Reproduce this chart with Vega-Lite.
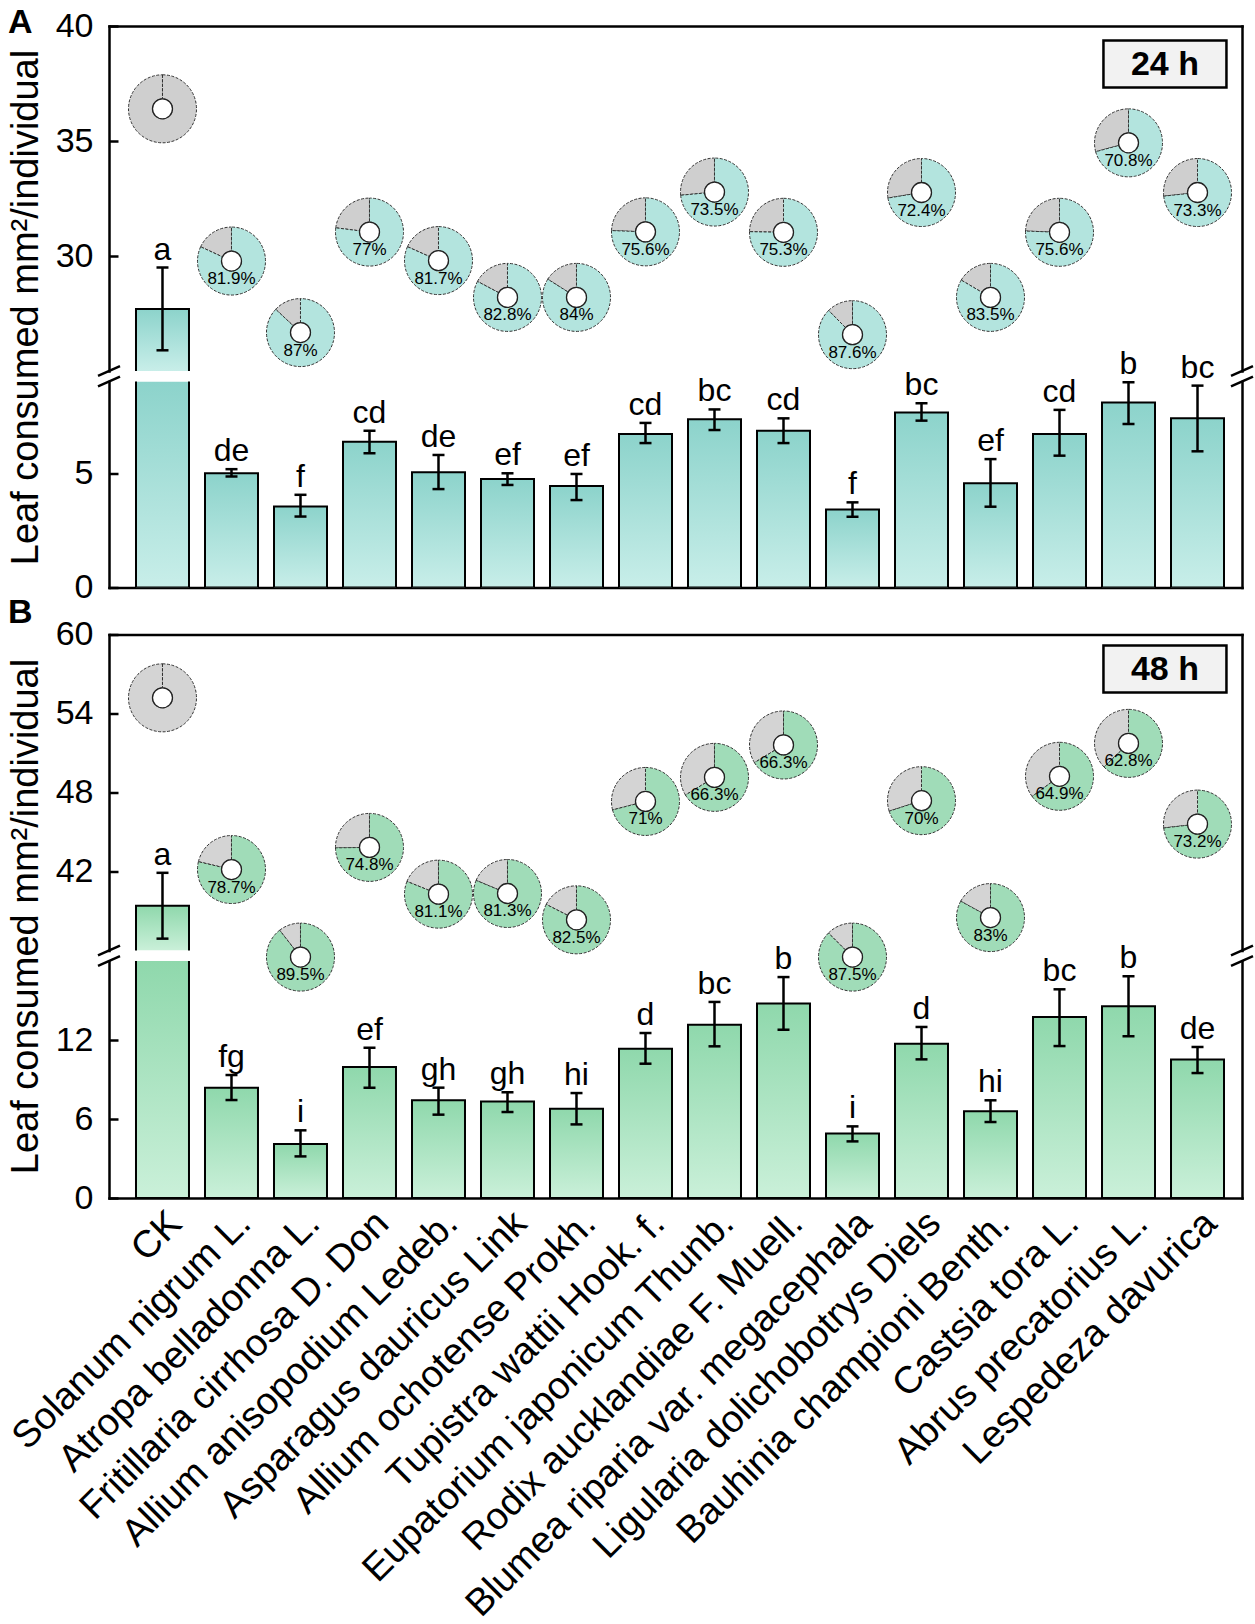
{
"$schema":"https://vega.github.io/schema/vega-lite/v6.json",
"background":"white",
"padding":{"left":5,"top":5,"right":5,"bottom":5},
"config":{"view":{"stroke":null},"font":"Liberation Sans","axis":{"grid":false}},
"datasets":{"d":[
{"panel":"A","species":"CK","mean":27.7,"lo":25.9,"hi":29.5,"letter":"a","rate":0,"pie_y":36.4},
{"panel":"A","species":"Solanum nigrum L.","mean":4.99,"lo":4.85,"hi":5.17,"letter":"de","rate":0.819,"pie_y":29.78},
{"panel":"A","species":"Atropa belladonna L.","mean":3.54,"lo":3.1,"hi":4.05,"letter":"f","rate":0.87,"pie_y":26.67},
{"panel":"A","species":"Fritillaria cirrhosa D. Don","mean":6.37,"lo":5.87,"hi":6.85,"letter":"cd","rate":0.77,"pie_y":31.04},
{"panel":"A","species":"Allium anisopodium Ledeb.","mean":5.03,"lo":4.3,"hi":5.79,"letter":"de","rate":0.817,"pie_y":29.8},
{"panel":"A","species":"Asparagus dauricus Link","mean":4.74,"lo":4.48,"hi":4.99,"letter":"ef","rate":0.828,"pie_y":28.2},
{"panel":"A","species":"Allium ochotense Prokh.","mean":4.43,"lo":3.82,"hi":4.96,"letter":"ef","rate":0.84,"pie_y":28.2},
{"panel":"A","species":"Tupistra wattii Hook. f.","mean":6.71,"lo":6.31,"hi":7.19,"letter":"cd","rate":0.756,"pie_y":31.05},
{"panel":"A","species":"Eupatorium japonicum Thunb.","mean":7.35,"lo":6.88,"hi":7.78,"letter":"bc","rate":0.735,"pie_y":32.78},
{"panel":"A","species":"Rodix aucklandiae F. Muell.","mean":6.85,"lo":6.31,"hi":7.39,"letter":"cd","rate":0.753,"pie_y":31.03},
{"panel":"A","species":"Blumea riparia var. megacephala","mean":3.41,"lo":3.09,"hi":3.72,"letter":"f","rate":0.876,"pie_y":26.58},
{"panel":"A","species":"Ligularia dolichobotrys Diels","mean":7.65,"lo":7.29,"hi":8.05,"letter":"bc","rate":0.724,"pie_y":32.76},
{"panel":"A","species":"Bauhinia championi Benth.","mean":4.56,"lo":3.53,"hi":5.61,"letter":"ef","rate":0.835,"pie_y":28.2},
{"panel":"A","species":"Castsia tora L.","mean":6.71,"lo":5.76,"hi":7.76,"letter":"cd","rate":0.756,"pie_y":31.03},
{"panel":"A","species":"Abrus precatorius L.","mean":8.08,"lo":7.14,"hi":8.97,"letter":"b","rate":0.708,"pie_y":34.92},
{"panel":"A","species":"Lespedeza davurica","mean":7.39,"lo":5.95,"hi":8.82,"letter":"bc","rate":0.733,"pie_y":32.76},
{"panel":"B","species":"CK","mean":39.4,"lo":36.9,"hi":41.9,"letter":"a","rate":0,"pie_y":55.19},
{"panel":"B","species":"Solanum nigrum L.","mean":8.38,"lo":7.44,"hi":9.34,"letter":"fg","rate":0.787,"pie_y":42.15},
{"panel":"B","species":"Atropa belladonna L.","mean":4.1,"lo":3.16,"hi":5.14,"letter":"i","rate":0.895,"pie_y":35.5},
{"panel":"B","species":"Fritillaria cirrhosa D. Don","mean":9.95,"lo":8.38,"hi":11.41,"letter":"ef","rate":0.748,"pie_y":43.83},
{"panel":"B","species":"Allium anisopodium Ledeb.","mean":7.42,"lo":6.33,"hi":8.38,"letter":"gh","rate":0.811,"pie_y":40.28},
{"panel":"B","species":"Asparagus dauricus Link","mean":7.32,"lo":6.53,"hi":8.03,"letter":"gh","rate":0.813,"pie_y":40.33},
{"panel":"B","species":"Allium ochotense Prokh.","mean":6.78,"lo":5.59,"hi":7.97,"letter":"hi","rate":0.825,"pie_y":38.33},
{"panel":"B","species":"Tupistra wattii Hook. f.","mean":11.34,"lo":10.2,"hi":12.53,"letter":"d","rate":0.71,"pie_y":47.32},
{"panel":"B","species":"Eupatorium japonicum Thunb.","mean":13.16,"lo":11.52,"hi":14.89,"letter":"bc","rate":0.663,"pie_y":49.15},
{"panel":"B","species":"Rodix aucklandiae F. Muell.","mean":14.78,"lo":12.78,"hi":16.78,"letter":"b","rate":0.663,"pie_y":51.61},
{"panel":"B","species":"Blumea riparia var. megacephala","mean":4.89,"lo":4.3,"hi":5.44,"letter":"i","rate":0.875,"pie_y":35.5},
{"panel":"B","species":"Ligularia dolichobotrys Diels","mean":11.72,"lo":10.53,"hi":12.99,"letter":"d","rate":0.7,"pie_y":47.38},
{"panel":"B","species":"Bauhinia championi Benth.","mean":6.58,"lo":5.77,"hi":7.42,"letter":"hi","rate":0.83,"pie_y":38.5},
{"panel":"B","species":"Castsia tora L.","mean":13.75,"lo":11.54,"hi":15.85,"letter":"bc","rate":0.649,"pie_y":49.23},
{"panel":"B","species":"Abrus precatorius L.","mean":14.56,"lo":12.28,"hi":16.84,"letter":"b","rate":0.628,"pie_y":51.73},
{"panel":"B","species":"Lespedeza davurica","mean":10.51,"lo":9.49,"hi":11.47,"letter":"de","rate":0.732,"pie_y":45.6}
]},
"bounds":"flush",
"spacing":10.5,
"vconcat":[
{"width":1133,"height":345,
 "layer":[
  {"data":{"name":"d"},"transform":[{"filter":"datum.panel == 'A' && datum.mean > 20"}],
   "mark":{"type":"bar","clip":true,"fill":{"gradient":"linear","x1":0,"y1":0,"x2":0,"y2":1,"stops":[{"offset":0,"color":"#8cd3cb"},{"offset":1,"color":"#c8eee9"}]},"strokeWidth":0},
   "encoding":{
    "x":{"field":"species","type":"nominal","sort":null,"scale":{"domain":["CK","Solanum nigrum L.","Atropa belladonna L.","Fritillaria cirrhosa D. Don","Allium anisopodium Ledeb.","Asparagus dauricus Link","Allium ochotense Prokh.","Tupistra wattii Hook. f.","Eupatorium japonicum Thunb.","Rodix aucklandiae F. Muell.","Blumea riparia var. megacephala","Ligularia dolichobotrys Diels","Bauhinia championi Benth.","Castsia tora L.","Abrus precatorius L.","Lespedeza davurica"],"paddingInner":0.232,"paddingOuter":0.326,"align":0.6},"axis":{"orient":"top","labels":false,"ticks":false,"title":null,"domainColor":"black","domainWidth":2.5,"domainCap":"square"}},
    "y":{"field":"mean","type":"quantitative","scale":{"domain":[25,40],"nice":false,"zero":false,"clamp":true},"axis":{"orient":"left","values":[30,35,40],"ticks":false,"domainColor":"black","domainWidth":2.5,"domainCap":"square","labelFontSize":34,"labelColor":"black","labelPadding":16,"title":"Leaf consumed mm²/individual","titleFontSize":38,"titleFontWeight":"normal","titleColor":"black","titleY":281,"titlePadding":10}},
    "y2":{"datum":0}}},
  {"data":{"name":"d"},"transform":[{"filter":"datum.panel == 'A'"}],
   "layer":[
    {"transform":[{"filter":"datum.mean > 20"}],"mark":{"type":"bar","clip":true,"fill":"transparent","stroke":"black","strokeWidth":2},
     "encoding":{"x":{"field":"species","type":"nominal","sort":null,"scale":{"domain":["CK","Solanum nigrum L.","Atropa belladonna L.","Fritillaria cirrhosa D. Don","Allium anisopodium Ledeb.","Asparagus dauricus Link","Allium ochotense Prokh.","Tupistra wattii Hook. f.","Eupatorium japonicum Thunb.","Rodix aucklandiae F. Muell.","Blumea riparia var. megacephala","Ligularia dolichobotrys Diels","Bauhinia championi Benth.","Castsia tora L.","Abrus precatorius L.","Lespedeza davurica"],"paddingInner":0.232,"paddingOuter":0.326,"align":0.6},"axis":null},
      "y":{"field":"mean","type":"quantitative","scale":{"domain":[25,40],"nice":false,"zero":false},"axis":{"orient":"right","labels":false,"ticks":false,"title":null,"domainColor":"black","domainWidth":2.5,"domainCap":"square"}},
      "y2":{"datum":0}}},
    {"transform":[{"filter":"datum.mean > 20"}],"mark":{"type":"rule","color":"black","strokeWidth":2.5},
     "encoding":{"x":{"field":"species","type":"nominal","sort":null,"axis":null},"y":{"field":"lo","type":"quantitative","scale":{"domain":[25,40],"nice":false,"zero":false},"axis":{"orient":"left","offset":-9,"values":[30,35,40],"domain":false,"labels":false,"ticks":true,"tickSize":9,"tickWidth":2.5,"tickColor":"black","title":null}},"y2":{"field":"hi"}}},
    {"transform":[{"filter":"datum.mean > 20"}],"mark":{"type":"tick","color":"black","opacity":1,"thickness":2.5,"size":12},
     "encoding":{"x":{"field":"species","type":"nominal","sort":null,"axis":null},"y":{"field":"lo","type":"quantitative","scale":{"domain":[25,40],"nice":false,"zero":false},"axis":null}}},
    {"transform":[{"filter":"datum.mean > 20"}],"mark":{"type":"tick","color":"black","opacity":1,"thickness":2.5,"size":12},
     "encoding":{"x":{"field":"species","type":"nominal","sort":null,"axis":null},"y":{"field":"hi","type":"quantitative","scale":{"domain":[25,40],"nice":false,"zero":false},"axis":null}}},
    {"transform":[{"filter":"datum.mean > 20"}],"mark":{"type":"text","fontSize":32,"baseline":"alphabetic","dy":-8,"color":"black"},
     "encoding":{"x":{"field":"species","type":"nominal","sort":null,"axis":null},"y":{"field":"hi","type":"quantitative","scale":{"domain":[25,40],"nice":false,"zero":false},"axis":null},"text":{"field":"letter"}}},
    {"mark":{"type":"arc","radius":34,"radius2":10,"fill":"#cfcfcf","stroke":"#333333","strokeWidth":1,"strokeDash":[3,1.5]},
     "encoding":{"x":{"field":"species","type":"nominal","sort":null,"axis":null},"y":{"field":"pie_y","type":"quantitative","scale":{"domain":[25,40],"nice":false,"zero":false},"axis":null},"theta":{"field":"rate","type":"quantitative","stack":null,"scale":{"domain":[0,1]}},"theta2":{"value":6.2832}}},
    {"mark":{"type":"arc","radius":34,"radius2":10,"fill":"#b3e4de","stroke":"#333333","strokeWidth":1,"strokeDash":[3,1.5]},
     "encoding":{"x":{"field":"species","type":"nominal","sort":null,"axis":null},"y":{"field":"pie_y","type":"quantitative","scale":{"domain":[25,40],"nice":false,"zero":false},"axis":null},"theta":{"field":"rate","type":"quantitative","stack":null,"scale":{"domain":[0,1]}},"theta2":{"value":0}}},
    {"mark":{"type":"point","shape":"circle","size":400,"filled":true,"fill":"white","stroke":"#222222","strokeWidth":1.3,"opacity":1},
     "encoding":{"x":{"field":"species","type":"nominal","sort":null,"axis":null},"y":{"field":"pie_y","type":"quantitative","scale":{"domain":[25,40],"nice":false,"zero":false},"axis":null}}},
    {"transform":[{"filter":"datum.rate > 0"}],"mark":{"type":"text","fontSize":17,"dy":18,"color":"black"},
     "encoding":{"x":{"field":"species","type":"nominal","sort":null,"axis":null},"y":{"field":"pie_y","type":"quantitative","scale":{"domain":[25,40],"nice":false,"zero":false},"axis":null},"text":{"field":"rate","type":"quantitative","format":".1~%"}}}
   ],
   "resolve":{"axis":{"y":"independent"}}},
  {"data":{"values":[{}]},
   "layer":[
    {"mark":{"type":"point","shape":"M-1,0.45L1,-0.45","size":484,"filled":false,"stroke":"black","strokeWidth":2.5,"opacity":1},
     "encoding":{"x":{"datum":0,"type":"quantitative","scale":{"domain":[0,1],"nice":false,"zero":false},"axis":null},"y":{"datum":25,"type":"quantitative","scale":{"domain":[25,40],"nice":false,"zero":false},"axis":null}}},
    {"mark":{"type":"point","shape":"M-1,0.45L1,-0.45","size":484,"filled":false,"stroke":"black","strokeWidth":2.5,"opacity":1},
     "encoding":{"x":{"datum":1,"type":"quantitative","scale":{"domain":[0,1],"nice":false,"zero":false},"axis":null},"y":{"datum":25,"type":"quantitative","scale":{"domain":[25,40],"nice":false,"zero":false},"axis":null}}},
    {"mark":{"type":"point","shape":"M-1,-0.382L1,-0.382L1,0.382L-1,0.382Z","size":15129,"filled":true,"fill":"#f2f2f2","stroke":"black","strokeWidth":2.5,"opacity":1},
     "encoding":{"x":{"datum":0.932,"type":"quantitative","scale":{"domain":[0,1],"nice":false,"zero":false},"axis":null},"y":{"datum":38.35,"type":"quantitative","scale":{"domain":[25,40],"nice":false,"zero":false},"axis":null}}},
    {"mark":{"type":"text","text":"24 h","fontSize":34,"fontWeight":"bold","baseline":"middle","dy":1,"color":"black"},
     "encoding":{"x":{"datum":0.932,"type":"quantitative","scale":{"domain":[0,1],"nice":false,"zero":false},"axis":null},"y":{"datum":38.35,"type":"quantitative","scale":{"domain":[25,40],"nice":false,"zero":false},"axis":null}}},
    {"mark":{"type":"text","text":"A","fontSize":34,"fontWeight":"bold","align":"left","baseline":"alphabetic","color":"black"},
     "encoding":{"x":{"datum":-0.0891,"type":"quantitative","scale":{"domain":[0,1],"nice":false,"zero":false},"axis":null},"y":{"datum":39.7,"type":"quantitative","scale":{"domain":[25,40],"nice":false,"zero":false},"axis":null}}}
   ]}
 ],
 "resolve":{"scale":{"x":"independent","y":"independent"},"axis":{"x":"independent","y":"independent"}}
},
{"width":1133,"height":206,
 "layer":[
  {"data":{"name":"d"},"transform":[{"filter":"datum.panel == 'A'"}],
   "mark":{"type":"bar","clip":true,"fill":{"gradient":"linear","x1":0,"y1":0,"x2":0,"y2":1,"stops":[{"offset":0,"color":"#8cd3cb"},{"offset":1,"color":"#c8eee9"}]},"strokeWidth":0},
   "encoding":{
    "x":{"field":"species","type":"nominal","sort":null,"scale":{"domain":["CK","Solanum nigrum L.","Atropa belladonna L.","Fritillaria cirrhosa D. Don","Allium anisopodium Ledeb.","Asparagus dauricus Link","Allium ochotense Prokh.","Tupistra wattii Hook. f.","Eupatorium japonicum Thunb.","Rodix aucklandiae F. Muell.","Blumea riparia var. megacephala","Ligularia dolichobotrys Diels","Bauhinia championi Benth.","Castsia tora L.","Abrus precatorius L.","Lespedeza davurica"],"paddingInner":0.232,"paddingOuter":0.326,"align":0.6},"axis":{"orient":"bottom","labels":false,"ticks":false,"title":null,"domainColor":"black","domainWidth":2.5,"domainCap":"square"}},
    "y":{"field":"mean","type":"quantitative","scale":{"domain":[0,9],"nice":false,"zero":false,"clamp":true},"axis":{"orient":"left","values":[0,5],"ticks":false,"domainColor":"black","domainWidth":2.5,"domainCap":"square","labelFontSize":34,"labelColor":"black","labelPadding":16,"title":null}},
    "y2":{"datum":0}}},
  {"data":{"name":"d"},"transform":[{"filter":"datum.panel == 'A'"}],
   "layer":[
    {"mark":{"type":"bar","clip":true,"fill":"transparent","stroke":"black","strokeWidth":2},
     "encoding":{"x":{"field":"species","type":"nominal","sort":null,"scale":{"domain":["CK","Solanum nigrum L.","Atropa belladonna L.","Fritillaria cirrhosa D. Don","Allium anisopodium Ledeb.","Asparagus dauricus Link","Allium ochotense Prokh.","Tupistra wattii Hook. f.","Eupatorium japonicum Thunb.","Rodix aucklandiae F. Muell.","Blumea riparia var. megacephala","Ligularia dolichobotrys Diels","Bauhinia championi Benth.","Castsia tora L.","Abrus precatorius L.","Lespedeza davurica"],"paddingInner":0.232,"paddingOuter":0.326,"align":0.6},"axis":null},
      "y":{"field":"mean","type":"quantitative","scale":{"domain":[0,9],"nice":false,"zero":false},"axis":{"orient":"right","labels":false,"ticks":false,"title":null,"domainColor":"black","domainWidth":2.5,"domainCap":"square"}},
      "y2":{"datum":0}}},
    {"transform":[{"filter":"datum.mean < 20"}],"mark":{"type":"rule","color":"black","strokeWidth":2.5},
     "encoding":{"x":{"field":"species","type":"nominal","sort":null,"axis":null},"y":{"field":"lo","type":"quantitative","scale":{"domain":[0,9],"nice":false,"zero":false},"axis":{"orient":"left","offset":-9,"values":[0,5],"domain":false,"labels":false,"ticks":true,"tickSize":9,"tickWidth":2.5,"tickColor":"black","title":null}},"y2":{"field":"hi"}}},
    {"transform":[{"filter":"datum.mean < 20"}],"mark":{"type":"tick","color":"black","opacity":1,"thickness":2.5,"size":12},
     "encoding":{"x":{"field":"species","type":"nominal","sort":null,"axis":null},"y":{"field":"lo","type":"quantitative","scale":{"domain":[0,9],"nice":false,"zero":false},"axis":null}}},
    {"transform":[{"filter":"datum.mean < 20"}],"mark":{"type":"tick","color":"black","opacity":1,"thickness":2.5,"size":12},
     "encoding":{"x":{"field":"species","type":"nominal","sort":null,"axis":null},"y":{"field":"hi","type":"quantitative","scale":{"domain":[0,9],"nice":false,"zero":false},"axis":null}}},
    {"transform":[{"filter":"datum.mean < 20"}],"mark":{"type":"text","fontSize":32,"baseline":"alphabetic","dy":-8,"color":"black"},
     "encoding":{"x":{"field":"species","type":"nominal","sort":null,"axis":null},"y":{"field":"hi","type":"quantitative","scale":{"domain":[0,9],"nice":false,"zero":false},"axis":null},"text":{"field":"letter"}}}
   ],
   "resolve":{"axis":{"y":"independent"}}},
  {"data":{"values":[{}]},
   "layer":[
    {"mark":{"type":"point","shape":"M-1,0.45L1,-0.45","size":484,"filled":false,"stroke":"black","strokeWidth":2.5,"opacity":1},
     "encoding":{"x":{"datum":0,"type":"quantitative","scale":{"domain":[0,1],"nice":false,"zero":false},"axis":null},"y":{"datum":9,"type":"quantitative","scale":{"domain":[0,9],"nice":false,"zero":false},"axis":null}}},
    {"mark":{"type":"point","shape":"M-1,0.45L1,-0.45","size":484,"filled":false,"stroke":"black","strokeWidth":2.5,"opacity":1},
     "encoding":{"x":{"datum":1,"type":"quantitative","scale":{"domain":[0,1],"nice":false,"zero":false},"axis":null},"y":{"datum":9,"type":"quantitative","scale":{"domain":[0,9],"nice":false,"zero":false},"axis":null}}}
   ]}
 ],
 "resolve":{"scale":{"x":"independent","y":"independent"},"axis":{"x":"independent","y":"independent"}}
},
{"width":1133,"height":26,"data":{"values":[{}]},"mark":{"type":"text","text":""},"encoding":{}},
{"width":1133,"height":316,
 "layer":[
  {"data":{"name":"d"},"transform":[{"filter":"datum.panel == 'B' && datum.mean > 20"}],
   "mark":{"type":"bar","clip":true,"fill":{"gradient":"linear","x1":0,"y1":0,"x2":0,"y2":1,"stops":[{"offset":0,"color":"#8fd8ac"},{"offset":1,"color":"#caf0d9"}]},"strokeWidth":0},
   "encoding":{
    "x":{"field":"species","type":"nominal","sort":null,"scale":{"domain":["CK","Solanum nigrum L.","Atropa belladonna L.","Fritillaria cirrhosa D. Don","Allium anisopodium Ledeb.","Asparagus dauricus Link","Allium ochotense Prokh.","Tupistra wattii Hook. f.","Eupatorium japonicum Thunb.","Rodix aucklandiae F. Muell.","Blumea riparia var. megacephala","Ligularia dolichobotrys Diels","Bauhinia championi Benth.","Castsia tora L.","Abrus precatorius L.","Lespedeza davurica"],"paddingInner":0.232,"paddingOuter":0.326,"align":0.6},"axis":{"orient":"top","labels":false,"ticks":false,"title":null,"domainColor":"black","domainWidth":2.5,"domainCap":"square"}},
    "y":{"field":"mean","type":"quantitative","scale":{"domain":[36,60],"nice":false,"zero":false,"clamp":true},"axis":{"orient":"left","values":[42,48,54,60],"ticks":false,"domainColor":"black","domainWidth":2.5,"domainCap":"square","labelFontSize":34,"labelColor":"black","labelPadding":16,"title":"Leaf consumed mm²/individual","titleFontSize":38,"titleFontWeight":"normal","titleColor":"black","titleY":281.5,"titlePadding":10}},
    "y2":{"datum":0}}},
  {"data":{"name":"d"},"transform":[{"filter":"datum.panel == 'B'"}],
   "layer":[
    {"transform":[{"filter":"datum.mean > 20"}],"mark":{"type":"bar","clip":true,"fill":"transparent","stroke":"black","strokeWidth":2},
     "encoding":{"x":{"field":"species","type":"nominal","sort":null,"scale":{"domain":["CK","Solanum nigrum L.","Atropa belladonna L.","Fritillaria cirrhosa D. Don","Allium anisopodium Ledeb.","Asparagus dauricus Link","Allium ochotense Prokh.","Tupistra wattii Hook. f.","Eupatorium japonicum Thunb.","Rodix aucklandiae F. Muell.","Blumea riparia var. megacephala","Ligularia dolichobotrys Diels","Bauhinia championi Benth.","Castsia tora L.","Abrus precatorius L.","Lespedeza davurica"],"paddingInner":0.232,"paddingOuter":0.326,"align":0.6},"axis":null},
      "y":{"field":"mean","type":"quantitative","scale":{"domain":[36,60],"nice":false,"zero":false},"axis":{"orient":"right","labels":false,"ticks":false,"title":null,"domainColor":"black","domainWidth":2.5,"domainCap":"square"}},
      "y2":{"datum":0}}},
    {"transform":[{"filter":"datum.mean > 20"}],"mark":{"type":"rule","color":"black","strokeWidth":2.5},
     "encoding":{"x":{"field":"species","type":"nominal","sort":null,"axis":null},"y":{"field":"lo","type":"quantitative","scale":{"domain":[36,60],"nice":false,"zero":false},"axis":{"orient":"left","offset":-9,"values":[42,48,54,60],"domain":false,"labels":false,"ticks":true,"tickSize":9,"tickWidth":2.5,"tickColor":"black","title":null}},"y2":{"field":"hi"}}},
    {"transform":[{"filter":"datum.mean > 20"}],"mark":{"type":"tick","color":"black","opacity":1,"thickness":2.5,"size":12},
     "encoding":{"x":{"field":"species","type":"nominal","sort":null,"axis":null},"y":{"field":"lo","type":"quantitative","scale":{"domain":[36,60],"nice":false,"zero":false},"axis":null}}},
    {"transform":[{"filter":"datum.mean > 20"}],"mark":{"type":"tick","color":"black","opacity":1,"thickness":2.5,"size":12},
     "encoding":{"x":{"field":"species","type":"nominal","sort":null,"axis":null},"y":{"field":"hi","type":"quantitative","scale":{"domain":[36,60],"nice":false,"zero":false},"axis":null}}},
    {"transform":[{"filter":"datum.mean > 20"}],"mark":{"type":"text","fontSize":32,"baseline":"alphabetic","dy":-8,"color":"black"},
     "encoding":{"x":{"field":"species","type":"nominal","sort":null,"axis":null},"y":{"field":"hi","type":"quantitative","scale":{"domain":[36,60],"nice":false,"zero":false},"axis":null},"text":{"field":"letter"}}},
    {"mark":{"type":"arc","radius":34,"radius2":10,"fill":"#d4d4d4","stroke":"#333333","strokeWidth":1,"strokeDash":[3,1.5]},
     "encoding":{"x":{"field":"species","type":"nominal","sort":null,"axis":null},"y":{"field":"pie_y","type":"quantitative","scale":{"domain":[36,60],"nice":false,"zero":false},"axis":null},"theta":{"field":"rate","type":"quantitative","stack":null,"scale":{"domain":[0,1]}},"theta2":{"value":6.2832}}},
    {"mark":{"type":"arc","radius":34,"radius2":10,"fill":"#a0dcb8","stroke":"#333333","strokeWidth":1,"strokeDash":[3,1.5]},
     "encoding":{"x":{"field":"species","type":"nominal","sort":null,"axis":null},"y":{"field":"pie_y","type":"quantitative","scale":{"domain":[36,60],"nice":false,"zero":false},"axis":null},"theta":{"field":"rate","type":"quantitative","stack":null,"scale":{"domain":[0,1]}},"theta2":{"value":0}}},
    {"mark":{"type":"point","shape":"circle","size":400,"filled":true,"fill":"white","stroke":"#222222","strokeWidth":1.3,"opacity":1},
     "encoding":{"x":{"field":"species","type":"nominal","sort":null,"axis":null},"y":{"field":"pie_y","type":"quantitative","scale":{"domain":[36,60],"nice":false,"zero":false},"axis":null}}},
    {"transform":[{"filter":"datum.rate > 0"}],"mark":{"type":"text","fontSize":17,"dy":18,"color":"black"},
     "encoding":{"x":{"field":"species","type":"nominal","sort":null,"axis":null},"y":{"field":"pie_y","type":"quantitative","scale":{"domain":[36,60],"nice":false,"zero":false},"axis":null},"text":{"field":"rate","type":"quantitative","format":".1~%"}}}
   ],
   "resolve":{"axis":{"y":"independent"}}},
  {"data":{"values":[{}]},
   "layer":[
    {"mark":{"type":"point","shape":"M-1,0.45L1,-0.45","size":484,"filled":false,"stroke":"black","strokeWidth":2.5,"opacity":1},
     "encoding":{"x":{"datum":0,"type":"quantitative","scale":{"domain":[0,1],"nice":false,"zero":false},"axis":null},"y":{"datum":36,"type":"quantitative","scale":{"domain":[36,60],"nice":false,"zero":false},"axis":null}}},
    {"mark":{"type":"point","shape":"M-1,0.45L1,-0.45","size":484,"filled":false,"stroke":"black","strokeWidth":2.5,"opacity":1},
     "encoding":{"x":{"datum":1,"type":"quantitative","scale":{"domain":[0,1],"nice":false,"zero":false},"axis":null},"y":{"datum":36,"type":"quantitative","scale":{"domain":[36,60],"nice":false,"zero":false},"axis":null}}},
    {"mark":{"type":"point","shape":"M-1,-0.382L1,-0.382L1,0.382L-1,0.382Z","size":15129,"filled":true,"fill":"#f2f2f2","stroke":"black","strokeWidth":2.5,"opacity":1},
     "encoding":{"x":{"datum":0.932,"type":"quantitative","scale":{"domain":[0,1],"nice":false,"zero":false},"axis":null},"y":{"datum":57.38,"type":"quantitative","scale":{"domain":[36,60],"nice":false,"zero":false},"axis":null}}},
    {"mark":{"type":"text","text":"48 h","fontSize":34,"fontWeight":"bold","baseline":"middle","dy":1,"color":"black"},
     "encoding":{"x":{"datum":0.932,"type":"quantitative","scale":{"domain":[0,1],"nice":false,"zero":false},"axis":null},"y":{"datum":57.38,"type":"quantitative","scale":{"domain":[36,60],"nice":false,"zero":false},"axis":null}}},
    {"mark":{"type":"text","text":"B","fontSize":34,"fontWeight":"bold","align":"left","baseline":"alphabetic","color":"black"},
     "encoding":{"x":{"datum":-0.0891,"type":"quantitative","scale":{"domain":[0,1],"nice":false,"zero":false},"axis":null},"y":{"datum":60.91,"type":"quantitative","scale":{"domain":[36,60],"nice":false,"zero":false},"axis":null}}}
   ]}
 ],
 "resolve":{"scale":{"x":"independent","y":"independent"},"axis":{"x":"independent","y":"independent"}}
},
{"width":1133,"height":237,
 "layer":[
  {"data":{"name":"d"},"transform":[{"filter":"datum.panel == 'B'"}],
   "mark":{"type":"bar","clip":true,"fill":{"gradient":"linear","x1":0,"y1":0,"x2":0,"y2":1,"stops":[{"offset":0,"color":"#8fd8ac"},{"offset":1,"color":"#caf0d9"}]},"strokeWidth":0},
   "encoding":{
    "x":{"field":"species","type":"nominal","sort":null,"scale":{"domain":["CK","Solanum nigrum L.","Atropa belladonna L.","Fritillaria cirrhosa D. Don","Allium anisopodium Ledeb.","Asparagus dauricus Link","Allium ochotense Prokh.","Tupistra wattii Hook. f.","Eupatorium japonicum Thunb.","Rodix aucklandiae F. Muell.","Blumea riparia var. megacephala","Ligularia dolichobotrys Diels","Bauhinia championi Benth.","Castsia tora L.","Abrus precatorius L.","Lespedeza davurica"],"paddingInner":0.232,"paddingOuter":0.326,"align":0.6},"axis":{"orient":"bottom","ticks":false,"title":null,"domainColor":"black","domainWidth":2.5,"domainCap":"square","labelAngle":-45,"labelFontSize":38,"labelColor":"black","labelLimit":1000,"labelPadding":6}},
    "y":{"field":"mean","type":"quantitative","scale":{"domain":[0,18],"nice":false,"zero":false,"clamp":true},"axis":{"orient":"left","values":[0,6,12],"ticks":false,"domainColor":"black","domainWidth":2.5,"domainCap":"square","labelFontSize":34,"labelColor":"black","labelPadding":16,"title":null}},
    "y2":{"datum":0}}},
  {"data":{"name":"d"},"transform":[{"filter":"datum.panel == 'B'"}],
   "layer":[
    {"mark":{"type":"bar","clip":true,"fill":"transparent","stroke":"black","strokeWidth":2},
     "encoding":{"x":{"field":"species","type":"nominal","sort":null,"scale":{"domain":["CK","Solanum nigrum L.","Atropa belladonna L.","Fritillaria cirrhosa D. Don","Allium anisopodium Ledeb.","Asparagus dauricus Link","Allium ochotense Prokh.","Tupistra wattii Hook. f.","Eupatorium japonicum Thunb.","Rodix aucklandiae F. Muell.","Blumea riparia var. megacephala","Ligularia dolichobotrys Diels","Bauhinia championi Benth.","Castsia tora L.","Abrus precatorius L.","Lespedeza davurica"],"paddingInner":0.232,"paddingOuter":0.326,"align":0.6},"axis":null},
      "y":{"field":"mean","type":"quantitative","scale":{"domain":[0,18],"nice":false,"zero":false},"axis":{"orient":"right","labels":false,"ticks":false,"title":null,"domainColor":"black","domainWidth":2.5,"domainCap":"square"}},
      "y2":{"datum":0}}},
    {"transform":[{"filter":"datum.mean < 20"}],"mark":{"type":"rule","color":"black","strokeWidth":2.5},
     "encoding":{"x":{"field":"species","type":"nominal","sort":null,"axis":null},"y":{"field":"lo","type":"quantitative","scale":{"domain":[0,18],"nice":false,"zero":false},"axis":{"orient":"left","offset":-9,"values":[0,6,12],"domain":false,"labels":false,"ticks":true,"tickSize":9,"tickWidth":2.5,"tickColor":"black","title":null}},"y2":{"field":"hi"}}},
    {"transform":[{"filter":"datum.mean < 20"}],"mark":{"type":"tick","color":"black","opacity":1,"thickness":2.5,"size":12},
     "encoding":{"x":{"field":"species","type":"nominal","sort":null,"axis":null},"y":{"field":"lo","type":"quantitative","scale":{"domain":[0,18],"nice":false,"zero":false},"axis":null}}},
    {"transform":[{"filter":"datum.mean < 20"}],"mark":{"type":"tick","color":"black","opacity":1,"thickness":2.5,"size":12},
     "encoding":{"x":{"field":"species","type":"nominal","sort":null,"axis":null},"y":{"field":"hi","type":"quantitative","scale":{"domain":[0,18],"nice":false,"zero":false},"axis":null}}},
    {"transform":[{"filter":"datum.mean < 20"}],"mark":{"type":"text","fontSize":32,"baseline":"alphabetic","dy":-8,"color":"black"},
     "encoding":{"x":{"field":"species","type":"nominal","sort":null,"axis":null},"y":{"field":"hi","type":"quantitative","scale":{"domain":[0,18],"nice":false,"zero":false},"axis":null},"text":{"field":"letter"}}}
   ],
   "resolve":{"axis":{"y":"independent"}}},
  {"data":{"values":[{}]},
   "layer":[
    {"mark":{"type":"point","shape":"M-1,0.45L1,-0.45","size":484,"filled":false,"stroke":"black","strokeWidth":2.5,"opacity":1},
     "encoding":{"x":{"datum":0,"type":"quantitative","scale":{"domain":[0,1],"nice":false,"zero":false},"axis":null},"y":{"datum":18,"type":"quantitative","scale":{"domain":[0,18],"nice":false,"zero":false},"axis":null}}},
    {"mark":{"type":"point","shape":"M-1,0.45L1,-0.45","size":484,"filled":false,"stroke":"black","strokeWidth":2.5,"opacity":1},
     "encoding":{"x":{"datum":1,"type":"quantitative","scale":{"domain":[0,1],"nice":false,"zero":false},"axis":null},"y":{"datum":18,"type":"quantitative","scale":{"domain":[0,18],"nice":false,"zero":false},"axis":null}}}
   ]}
 ],
 "resolve":{"scale":{"x":"independent","y":"independent"},"axis":{"x":"independent","y":"independent"}}
}
]
}
